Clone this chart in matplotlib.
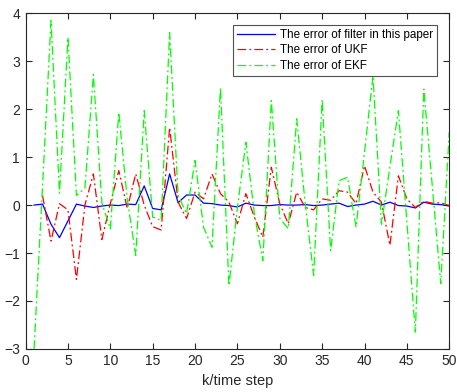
import numpy as np
import matplotlib
matplotlib.use('Agg')
import matplotlib.pyplot as plt

# time steps
k_blue = list(range(1, 51))
k_red = list(range(2, 51))
k_green = list(range(1, 51))

err_filter = [0.0, 0.02, -0.4, -0.68, -0.33, 0.02, -0.02, -0.05, -0.02, 0.0,
              -0.01, 0.02, 0.01, 0.4, -0.07, -0.1, 0.65, 0.05, 0.21, 0.21,
              0.04, 0.03, 0.0, -0.01, -0.04, 0.04, 0.0, -0.01, -0.01, 0.01,
              0.0, 0.0, 0.01, -0.01, 0.0, 0.02, 0.04, -0.03, 0.0, 0.02,
              0.08, 0.0, 0.06, -0.01, -0.02, -0.06, 0.06, 0.02, 0.01, -0.02]

err_ukf = [0.2, -0.75, 0.03, -0.1, -1.55, 0.0, 0.65, -0.72, 0.03, 0.72,
           -0.07, 0.65, 0.0, -0.45, -0.52, 1.62, 0.06, -0.28, 0.27, 0.13,
           0.65, 0.24, 0.06, -0.39, 0.24, -0.25, -0.67, 0.79, 0.03, -0.39,
           0.27, -0.05, -0.1, 0.13, 0.1, 0.3, 0.27, 0.03, 0.82, 0.27,
           0.06, -0.84, 0.61, 0.13, -0.05, 0.08, 0.04, 0.05, -0.01]

err_ekf = [-3.0, 0.4, 3.85, 0.25, 3.5, 0.2, 0.35, 2.72, 0.05, -0.5,
           1.93, 0.12, -1.05, 1.97, -0.25, -0.32, 3.6, 0.2, -0.18, 0.93,
           -0.46, -0.88, 2.45, -1.68, -0.05, 1.31, -0.18, -1.16, 2.18, -0.28,
           -0.49, 1.8, 0.03, -1.47, 2.2, -0.95, 0.51, 0.58, -0.46, 1.1,
           2.7, -0.4, 0.8, 1.97, -0.35, -2.65, 2.42, 0.4, -1.64, 1.52]

labels = ['The error of filter in this paper', 'The error of UKF', 'The error of EKF']

plt.rcParams['font.family'] = ['Liberation Sans', 'DejaVu Sans']

fig = plt.figure(figsize=(4.57, 3.92), dpi=100)
ax = fig.add_axes([0.056, 0.110, 0.927, 0.856])

dashdot = (0, (7, 2.5, 1.5, 2.5))
ax.plot(k_blue, err_filter, color='#0000ff', lw=0.9, ls='-', label=labels[0])
ax.plot(k_red, err_ukf, color='#ff0000', lw=0.9, ls=dashdot, label=labels[1])
ax.plot(k_green, err_ekf, color='#00ff00', lw=0.9, ls=dashdot, label=labels[2])

ax.set_xlim(0, 50)
ax.set_ylim(-3, 4)
ax.set_xticks(np.arange(0, 51, 5))
ax.set_yticks(np.arange(-3, 5, 1))
ax.tick_params(direction='in', length=4, width=0.8, top=True, right=True,
               labelsize=10, colors='#262626', pad=4)
for s in ax.spines.values():
    s.set_color('#262626')
    s.set_linewidth(0.8)
ax.set_xlabel('k/time step', fontsize=10.5, color='#262626', labelpad=4)

leg = ax.legend(loc='upper right', bbox_to_anchor=(0.972, 0.966), fontsize=8.4,
                frameon=True, fancybox=False, edgecolor='#262626',
                handlelength=3.3, borderpad=0.35, labelspacing=0.3,
                handletextpad=0.4, borderaxespad=0.0)
leg.get_frame().set_linewidth(0.8)

fig.savefig('out.png', dpi=100)
